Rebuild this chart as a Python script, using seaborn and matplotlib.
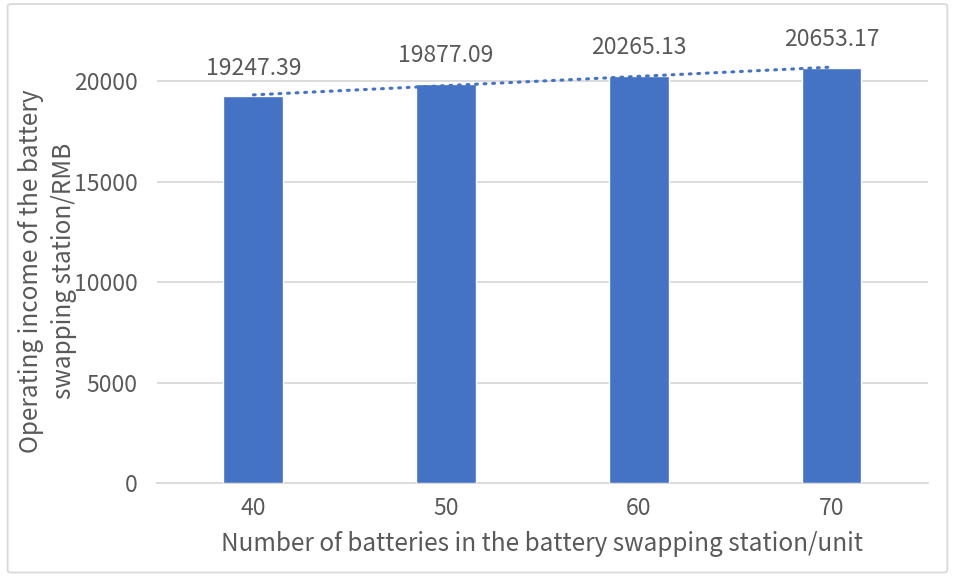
import numpy as np
import pandas as pd
import matplotlib
matplotlib.use("Agg")
import matplotlib.pyplot as plt
from matplotlib.patches import FancyBboxPatch
import seaborn as sns

# Data
battery_counts = ["40", "50", "60", "70"]
income = [19247.39, 19877.09, 20265.13, 20653.17]
y_ticks = [0, 5000, 10000, 15000, 20000]

BAR_COLOR = "#4472C4"
TEXT_COLOR = "#595959"
GRID_COLOR = "#D9D9D9"

sns.set_theme(style="white")
plt.rcParams["font.family"] = ["Noto Sans CJK SC", "DejaVu Sans"]

df = pd.DataFrame({"count": battery_counts, "income": income})

fig = plt.figure(figsize=(9.55, 5.76), dpi=100)
ax = fig.add_axes([0.1644, 0.1615, 0.8073, 0.7847])

sns.barplot(data=df, x="count", y="income", color=BAR_COLOR, width=0.31,
            saturation=1, ax=ax, zorder=3)

# Linear trendline across the categories
xs = np.arange(len(income))
slope, intercept = np.polyfit(xs, income, 1)
ax.plot(xs, slope * xs + intercept, color=BAR_COLOR, linewidth=2.2,
        linestyle=(0, (0.6, 2.2)), dash_capstyle="round", zorder=4)

# Value labels
for i, v in enumerate(income):
    ax.annotate(f"{v:.2f}", (i, v), xytext=(0, 12), textcoords="offset points",
                ha="center", va="bottom", fontsize=16.5, color=TEXT_COLOR)

ax.set_xlim(-0.5, len(income) - 0.5)
ax.set_ylim(0, 22500)
ax.set_yticks(y_ticks)
ax.set_yticklabels([str(t) for t in y_ticks])
ax.yaxis.grid(True, color=GRID_COLOR, linewidth=1.3, zorder=0)
ax.set_axisbelow(True)
for s in ["top", "right", "left"]:
    ax.spines[s].set_visible(False)
ax.spines["bottom"].set_color(GRID_COLOR)
ax.spines["bottom"].set_linewidth(1.3)
ax.tick_params(axis="both", length=0, labelsize=16.5, colors=TEXT_COLOR)
ax.tick_params(axis="y", pad=14)
ax.tick_params(axis="x", pad=10)

ax.set_xlabel("Number of batteries in the battery swapping station/unit",
              fontsize=17.5, color=TEXT_COLOR, labelpad=8)
ax.set_ylabel("Operating income of the battery\nswapping station/RMB",
              fontsize=17.5, color=TEXT_COLOR, linespacing=1.35)
ax.yaxis.label.set_va("center")
ax.yaxis.set_label_coords(-0.142, 0.469)

# Chart border
border = FancyBboxPatch((0.008, 0.006), 0.984, 0.987,
                        boxstyle="round,pad=0,rounding_size=0.004",
                        transform=fig.transFigure, facecolor="none",
                        edgecolor=GRID_COLOR, linewidth=1.3)
fig.patches.append(border)

fig.savefig("out.png", dpi=100, facecolor="white")
